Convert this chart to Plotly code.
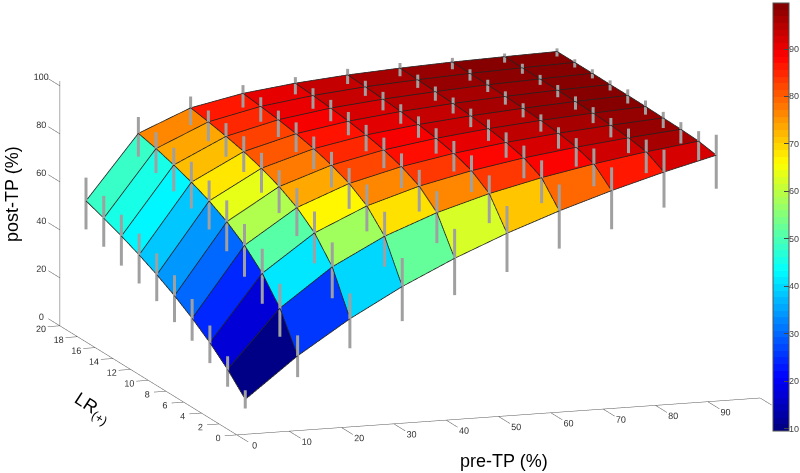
import numpy as np
import plotly.graph_objects as go

# values
pre_tp = [5, 15, 25, 35, 45, 55, 65, 75, 85, 95]
lr = [2, 4, 6, 8, 10, 12, 14, 16, 18, 20]

# one row per LR, one column per pre-TP
post_tp = [
    [9.5, 26.1, 40.0, 51.9, 62.1, 71.0, 78.8, 85.7, 91.9, 97.4],
    [17.4, 41.4, 57.1, 68.3, 76.6, 83.0, 88.1, 92.3, 95.8, 98.7],
    [24.0, 51.4, 66.7, 76.4, 83.1, 88.0, 91.8, 94.7, 97.1, 99.1],
    [29.6, 58.5, 72.7, 81.2, 86.7, 90.7, 93.7, 96.0, 97.8, 99.3],
    [34.5, 63.8, 76.9, 84.3, 89.1, 92.4, 94.9, 96.8, 98.3, 99.5],
    [38.7, 67.9, 80.0, 86.6, 90.8, 93.6, 95.7, 97.3, 98.6, 99.6],
    [42.4, 71.2, 82.4, 88.3, 92.0, 94.5, 96.3, 97.7, 98.8, 99.6],
    [45.7, 73.8, 84.2, 89.6, 92.9, 95.1, 96.7, 98.0, 98.9, 99.7],
    [48.6, 76.1, 85.7, 90.6, 93.6, 95.7, 97.1, 98.2, 99.0, 99.7],
    [51.3, 77.9, 87.0, 91.5, 94.2, 96.1, 97.4, 98.4, 99.1, 99.7],
]

# error bars, distance above and below the surface
err_up = [
    [3.8, 8.5, 10.6, 11.9, 12.3, 11.4, 11.0, 9.7, 9.3, 8.5],
    [5.5, 10.2, 10.2, 10.2, 8.9, 7.6, 7.2, 6.4, 5.1, 4.2],
    [7.2, 10.2, 8.9, 8.9, 6.8, 6.4, 5.1, 3.8, 3.8, 3.0],
    [8.1, 8.9, 8.1, 6.4, 5.5, 5.1, 4.2, 2.5, 3.0, 2.5],
    [8.5, 8.9, 6.8, 5.5, 5.1, 4.2, 3.8, 2.5, 2.5, 2.5],
    [8.9, 8.5, 6.4, 5.1, 4.2, 3.4, 3.0, 2.1, 2.1, 2.5],
    [8.9, 8.5, 6.4, 4.7, 3.8, 3.0, 2.5, 2.1, 2.1, 1.7],
    [8.9, 7.2, 5.5, 3.8, 3.4, 3.0, 2.1, 2.1, 1.7, 1.7],
    [9.3, 6.8, 4.7, 3.8, 3.0, 2.5, 2.1, 1.7, 1.7, 1.3],
    [9.7, 6.8, 4.7, 3.4, 2.5, 2.5, 2.1, 1.7, 1.3, 1.3],
]
err_down = [
    [3.8, 8.9, 12.3, 14.4, 15.3, 16.1, 15.7, 16.1, 14.8, 14.0],
    [7.2, 11.9, 13.1, 12.7, 12.7, 12.3, 10.6, 9.3, 8.9, 8.1],
    [8.5, 12.7, 12.7, 10.6, 10.6, 8.9, 8.5, 8.1, 6.4, 5.9],
    [9.3, 13.1, 11.9, 10.6, 8.9, 7.6, 6.4, 6.4, 5.1, 4.2],
    [11.0, 12.3, 11.0, 9.3, 7.6, 6.4, 5.1, 4.7, 4.2, 3.4],
    [11.0, 11.9, 10.2, 8.5, 6.8, 5.5, 4.7, 3.8, 3.4, 3.4],
    [11.9, 11.0, 8.5, 7.6, 5.9, 5.1, 4.2, 3.4, 3.0, 2.5],
    [12.3, 11.0, 8.5, 7.2, 5.5, 4.7, 3.8, 3.0, 2.5, 2.1],
    [11.9, 10.2, 8.1, 6.4, 5.5, 3.8, 3.4, 3.0, 2.5, 2.1],
    [11.9, 9.7, 7.2, 5.9, 4.7, 3.8, 3.4, 3.0, 2.5, 2.1],
]

x_ticks = [0, 10, 20, 30, 40, 50, 60, 70, 80, 90]
y_ticks = [0, 2, 4, 6, 8, 10, 12, 14, 16, 18, 20]
z_ticks = [0, 20, 40, 60, 80, 100]
cbar_ticks = [10, 20, 30, 40, 50, 60, 70, 80, 90]

# axis limits of the box
x_end = 100
y_end = 20
z_end = 102

# colour limits
c_min = 9.5
c_max = 99.7

AXIS_COLOR = '#555555'
TICK_FONT = dict(family='Liberation Sans', size=9, color='#333333')


def jet_scale(n=64):
    # matlab jet, stepped
    stops = []
    for i in range(n):
        t = (i + 0.5) / n
        r = np.clip(min(4 * t - 1.5, -4 * t + 4.5), 0, 1)
        g = np.clip(min(4 * t - 0.5, -4 * t + 3.5), 0, 1)
        b = np.clip(min(4 * t + 0.5, -4 * t + 2.5), 0, 1)
        c = f'rgb({int(r * 255)},{int(g * 255)},{int(b * 255)})'
        stops.append([i / n, c])
        stops.append([(i + 1) / n, c])
    return stops


z = np.array(post_tp)
nl, nx = z.shape
X, Y = np.meshgrid(pre_tp, lr)

# flat coloured quads: each one takes the colour of its lowest corner
ii, jj, kk, cell = [], [], [], []
for l in range(nl - 1):
    for m in range(nx - 1):
        a = l * nx + m
        b = a + 1
        c = a + nx + 1
        d = a + nx
        ii += [a, a]
        jj += [b, c]
        kk += [c, d]
        cell += [z[l, m], z[l, m]]

fig = go.Figure()

# colour bar labels are annotations below: native ones get no room at the page edge
fig.add_trace(go.Mesh3d(
    x=X.ravel(), y=Y.ravel(), z=z.ravel(), i=ii, j=jj, k=kk,
    intensity=cell, intensitymode='cell',
    colorscale=jet_scale(), cmin=c_min, cmax=c_max,
    flatshading=True,
    lighting=dict(ambient=1, diffuse=0, specular=0, roughness=1, fresnel=0),
    hoverinfo='skip',
    colorbar=dict(
        x=773 / 800, xanchor='left', xpad=0, ypad=0,
        y=42 / 473, yanchor='bottom',
        thickness=16, thicknessmode='pixels',
        len=428, lenmode='pixels',
        tickvals=cbar_ticks, ticks='inside', ticklen=5, tickcolor='#444444',
        showticklabels=False,
        outlinecolor=AXIS_COLOR, outlinewidth=1, borderwidth=0,
    ),
))


def segs(pairs):
    xs, ys, zs = [], [], []
    for p, q in pairs:
        xs += [p[0], q[0], None]
        ys += [p[1], q[1], None]
        zs += [p[2], q[2], None]
    return xs, ys, zs


# axes, drawn by hand so they sit on the same edges as the original
pairs = [((0, 0, 0), (x_end, 0, 0)), ((0, 0, 0), (0, y_end, 0)),
         ((0, y_end, 0), (0, y_end, z_end))]
pairs += [((v, 0, 0), (v, -1.3, 0)) for v in x_ticks + [100]]
pairs += [((0, v, 0), (-2.3, v, 0)) for v in y_ticks]
pairs += [((0, y_end, v), (0, y_end + 1.3, v)) for v in z_ticks]
xs, ys, zs = segs(pairs)
fig.add_trace(go.Scatter3d(x=xs, y=ys, z=zs, mode='lines', scene='scene',
                           line=dict(color=AXIS_COLOR, width=1), hoverinfo='skip'))

fig.add_trace(go.Scatter3d(
    x=x_ticks, y=[-2] * len(x_ticks), z=[0.2] * len(x_ticks), mode='text',
    text=[str(v) for v in x_ticks], textposition='middle center',
    textfont=TICK_FONT, hoverinfo='skip'))
fig.add_trace(go.Scatter3d(
    x=[-3.6] * len(y_ticks), y=y_ticks, z=[-0.7] * len(y_ticks), mode='text',
    text=[str(v) for v in y_ticks], textposition='middle center',
    textfont=TICK_FONT, hoverinfo='skip'))
fig.add_trace(go.Scatter3d(
    x=[0] * len(z_ticks), y=[y_end + 2.1] * len(z_ticks), z=[v - 1 for v in z_ticks], mode='text',
    text=[str(v) for v in z_ticks], textposition='middle center',
    textfont=TICK_FONT, hoverinfo='skip'))

# grid lines and error bars go in a second scene on top, so the bars
# stay visible below the surface like in the original
pairs = []
for l in range(nl):
    pairs += [((pre_tp[m], lr[l], z[l, m]), (pre_tp[m + 1], lr[l], z[l, m + 1])) for m in range(nx - 1)]
for m in range(nx):
    pairs += [((pre_tp[m], lr[l], z[l, m]), (pre_tp[m], lr[l + 1], z[l + 1, m])) for l in range(nl - 1)]
xs, ys, zs = segs(pairs)
fig.add_trace(go.Scatter3d(x=xs, y=ys, z=zs, mode='lines', scene='scene2',
                           line=dict(color='#222222', width=1.6), hoverinfo='skip'))

pairs = []
for l in range(nl):
    for m in range(nx):
        pairs.append(((pre_tp[m], lr[l], z[l, m] + err_up[l][m]),
                      (pre_tp[m], lr[l], z[l, m] - err_down[l][m])))
xs, ys, zs = segs(pairs)
fig.add_trace(go.Scatter3d(x=xs, y=ys, z=zs, mode='lines', scene='scene2',
                           line=dict(color='#A0A0A0', width=6), hoverinfo='skip'))

dist = 3
camera = dict(
    eye=dict(x=-0.3133 * dist, y=-0.9265 * dist, z=0.2084 * dist),
    center=dict(x=0, y=0, z=0),
    up=dict(x=0, y=0, z=1),
    projection=dict(type='orthographic'),
)
# orthographic zoom in plotly goes through the aspect ratio
zoom = 2.366
hidden = dict(visible=False)
scene_opts = dict(
    domain=dict(x=[0.025, 1], y=[0, 0.9882]),
    camera=camera,
    aspectmode='manual',
    aspectratio=dict(x=1.28 * zoom, y=1.4 * zoom, z=0.533 * zoom),
    xaxis=dict(range=[-14, 114], **hidden),
    yaxis=dict(range=[-4, 24], **hidden),
    zaxis=dict(range=[-9, 111], **hidden),
)

notes = [
    dict(text='post-TP (%)', x=12 / 800, y=1 - 194 / 473, xref='paper', yref='paper',
         xanchor='center', yanchor='middle',
         textangle=-90, showarrow=False, font=dict(family='Liberation Sans', size=18, color='black')),
    dict(text='pre-TP (%)', x=504 / 800, y=1 - 461 / 473, xref='paper', yref='paper',
         xanchor='center', yanchor='middle',
         showarrow=False, font=dict(family='Liberation Sans', size=18, color='black')),
    dict(text='LR<sub>(+)</sub>', x=92 / 800, y=1 - 408 / 473, xref='paper', yref='paper',
         xanchor='center', yanchor='middle',
         textangle=33, showarrow=False, font=dict(family='Liberation Sans', size=18, color='black')),
]
for v in cbar_ticks:
    notes.append(dict(
        text=str(v), x=790 / 800, xref='paper', xanchor='left',
        y=(42 + (v - c_min) / (c_max - c_min) * 428) / 473, yref='paper', yanchor='middle',
        showarrow=False, xshift=-3, font=dict(family='Liberation Sans', size=9, color='#444444')))

fig.update_layout(
    width=800, height=473,
    margin=dict(l=0, r=0, t=0, b=0),
    paper_bgcolor='white',
    showlegend=False,
    scene=scene_opts,
    scene2=scene_opts,
    annotations=notes,
)

# the page's default body margin would push the figure 8 px off
fig.write_html("out.html", config=dict(displayModeBar=False),
               post_script="document.body.style.margin='0';")
